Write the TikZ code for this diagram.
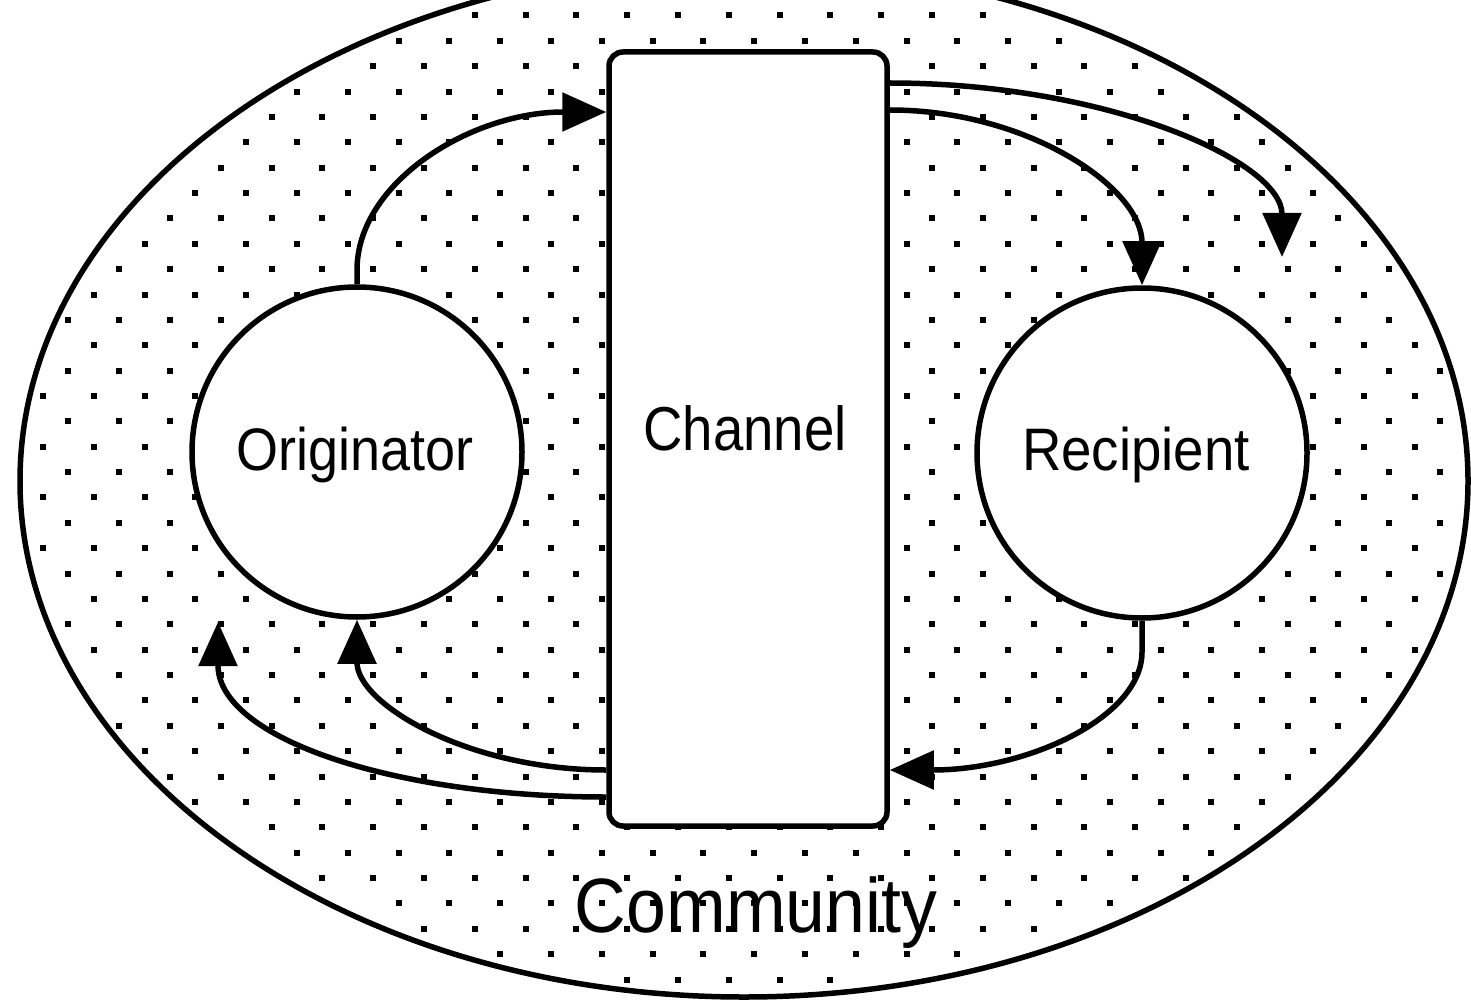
\documentclass[tikz,border=0pt]{standalone}
\usepackage{fontspec}
\setmainfont{Liberation Sans}
\usepackage{graphicx}
\usetikzlibrary{arrows.meta}
\begin{document}
\begin{tikzpicture}[x=1pt,y=-1pt,
  ink/.style={line width=5.5pt, draw=black},
  flow/.style={ink, -{Triangle[length=44pt,width=38pt]}},
  party/.style={ink, circle, fill=white, minimum size=330pt, inner sep=0pt},
  medium/.style={ink, rectangle, rounded corners=14pt, fill=white,
                 minimum width=278pt, minimum height=774pt, inner sep=0pt},
  lbl/.style={anchor=base, inner sep=0pt, font=\fontsize{60}{72}\selectfont}]
\useasboundingbox (0,0) rectangle (1471,1000);
\clip (0,0) rectangle (1471,1000);

% dot screen filling the community ellipse
\foreach \n in {-16,...,23}{
  \foreach \k in {0,...,28}{
    \pgfmathsetmacro{\dx}{43 + 25.4*abs(mod(\n,2)) + 50.8*\k}
    \pgfmathsetmacro{\dy}{396 + 25.37*\n}
    \pgfmathtruncatemacro{\inside}{((\dx-744)/714)^2 + ((\dy-481)/506)^2 < 1}
    \ifnum\inside=1
      \fill (\dx-3,\dy-3) rectangle ++(6,6);
    \fi
  }
}

% community boundary
\draw[ink] (744,481) ellipse [x radius=724, y radius=516];

% parties and channel
\node[party] (orig) at (357,452) {};
\node[party] (recp) at (1142,453) {};
\node[medium] (chan) at (748,439) {};

% free ends of the outward flows
\coordinate (outR) at (1282,257);
\coordinate (outL) at (218,622);

% flows
\draw[flow] (orig.north) -- (357,270) .. controls (357,183) and (470,112) .. (chan.west |- 0,112);
\draw[flow] (chan.east |- 0,110) .. controls (1028,110) and (1142,188) .. (recp.north);
\draw[flow] (chan.east |- 0,83) .. controls (1106,83) and (1282,161) .. (outR);
\draw[flow] (recp.south) -- (1142,652) .. controls (1142,717) and (1028,770) .. (chan.east |- 0,770);
\draw[flow] (chan.west |- 0,770) .. controls (468,770) and (357,704) .. (orig.south);
\draw[flow] (chan.west |- 0,797) .. controls (393,797) and (218,738) .. (218,665) -- (outL);

% labels
\node[lbl] (origlbl) at (355,470) {\scalebox{0.9}[1]{Originator}};
\node[lbl, font=\fontsize{62}{74}\selectfont] (chanlbl) at (745,450) {\scalebox{0.88}[1]{Channel}};
\node[lbl] (recplbl) at (1136,470) {\scalebox{0.91}[1]{Recipient}};
\node[lbl, font=\fontsize{77}{90}\selectfont] (commlbl) at (756,932) {\scalebox{0.93}[1]{Community}};
\end{tikzpicture}
\end{document}
